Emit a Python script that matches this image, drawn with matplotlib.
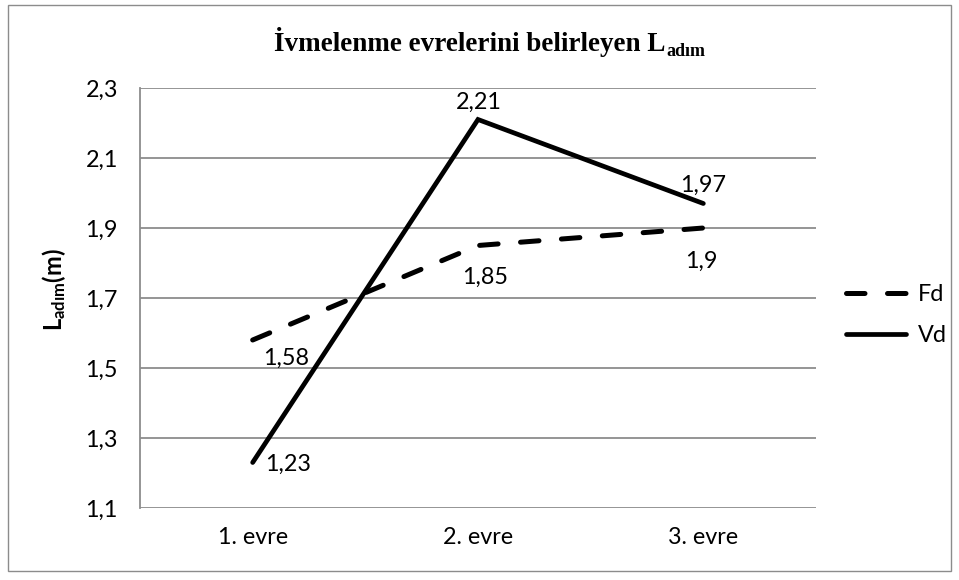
import matplotlib
matplotlib.use("Agg")
import matplotlib.pyplot as plt
from matplotlib.patches import Rectangle

categories = ["1. evre", "2. evre", "3. evre"]
fd_values = [1.58, 1.85, 1.9]
vd_values = [1.23, 2.21, 1.97]
fd_labels = ["1,58", "1,85", "1,9"]
vd_labels = ["1,23", "2,21", "1,97"]
yticks = [1.1, 1.3, 1.5, 1.7, 1.9, 2.1, 2.3]
ytick_labels = ["1,1", "1,3", "1,5", "1,7", "1,9", "2,1", "2,3"]

plt.rcParams['font.family'] = ['Lato', 'DejaVu Sans']
plt.rcParams['mathtext.fontset'] = 'custom'
plt.rcParams['mathtext.bf'] = 'Lato:bold'
plt.rcParams['mathtext.rm'] = 'Lato'

FS = 16.8

W, H = 959, 580
fig = plt.figure(figsize=(W / 100, H / 100), dpi=100)
fig.patches.append(Rectangle((8 / W, 1 - 571 / H), 943 / W, 566 / H, transform=fig.transFigure,
                             fill=False, edgecolor='#8c8c8c', linewidth=1.0))
ax = fig.add_axes([140 / W, 1 - 508 / H, 676 / W, 420 / H])

x = list(range(len(categories)))
ax.plot(x, fd_values, color='black', linewidth=3.6, dashes=(3.7, 4.5), dash_capstyle='round', label='Fd')
ax.plot(x, vd_values, color='black', linewidth=3.4, solid_capstyle='round', solid_joinstyle='miter', label='Vd')

ax.set_xlim(-0.5, len(categories) - 0.5)
ax.set_ylim(1.1, 2.3)
ax.set_yticks(yticks)
ax.set_yticklabels(ytick_labels)
ax.set_xticks(x)
ax.set_xticklabels(categories)
ax.tick_params(axis='both', length=0, labelsize=FS, colors='black')
ax.tick_params(axis='y', pad=16)
ax.tick_params(axis='x', pad=14)
ax.grid(axis='y', color='#8c8c8c', linewidth=1.3)
ax.set_axisbelow(True)
for s in ['top', 'right', 'bottom']:
    ax.spines[s].set_visible(False)
ax.spines['left'].set_color('#8c8c8c')
ax.spines['left'].set_linewidth(1.3)

fd_offsets = [(33, -18), (7, -32), (-2, -33)]
vd_offsets = [(35, -2), (1, 17), (0, 18)]
for xi, v, lab, off in zip(x, fd_values, fd_labels, fd_offsets):
    ax.annotate(lab, (xi, v), xytext=off, textcoords='offset pixels', ha='center', va='center', fontsize=FS)
for xi, v, lab, off in zip(x, vd_values, vd_labels, vd_offsets):
    ax.annotate(lab, (xi, v), xytext=off, textcoords='offset pixels', ha='center', va='center', fontsize=FS)

ax.set_ylabel(r'$\mathbf{L_{adım}}$' + '(m)', fontsize=17, fontweight='bold')
ax.yaxis.set_label_coords(-(140 - 68) / 676, (508 - 290) / 420)

# Title: main text + subscript drawn as separate serif texts
fig.canvas.draw()
renderer = fig.canvas.get_renderer()
main = fig.text(0, 0, 'İvmelenme evrelerini belirleyen L', fontsize=19.5, fontweight='bold',
                family='Liberation Serif', va='baseline', ha='left')
sub = fig.text(0, 0, 'adım', fontsize=13, fontweight='bold', family='Liberation Serif',
               va='baseline', ha='left')
wm = main.get_window_extent(renderer).width
ws = sub.get_window_extent(renderer).width
total = wm + ws + 1
x0 = (W - total) / 2 + 10
base = H - 51
main.set_position((x0 / W, base / H))
sub.set_position(((x0 + wm + 1) / W, (base - 5) / H))

ax.legend(loc='center left', bbox_to_anchor=(1.013, 0.46), frameon=False, fontsize=FS,
          handlelength=2.6, handletextpad=0.5, labelspacing=0.85)

fig.savefig('out.png', dpi=100)
